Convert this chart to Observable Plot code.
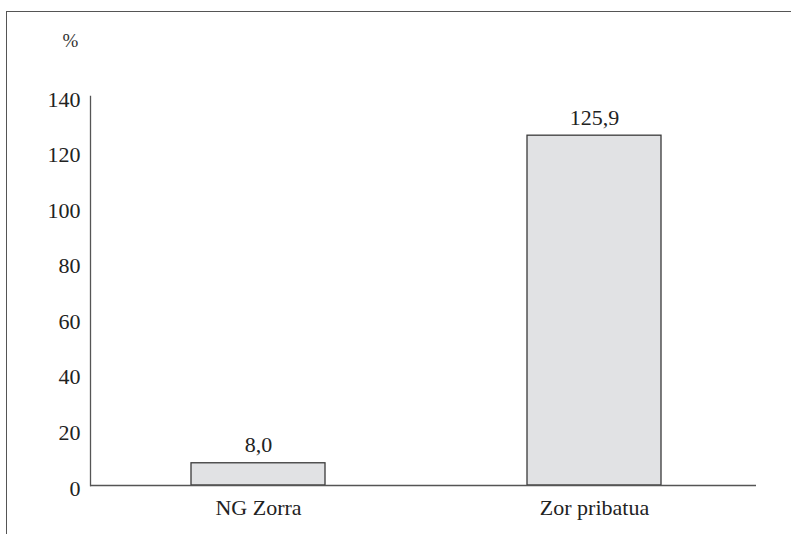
<!DOCTYPE html>
<html>
<head>
<meta charset="utf-8">
<script src="https://cdn.jsdelivr.net/npm/d3@7"></script>
<script src="https://cdn.jsdelivr.net/npm/@observablehq/plot@0.6"></script>
<style>
  html, body { margin: 0; padding: 0; background: #fff; }
  #wrap { position: relative; width: 791px; height: 534px; overflow: hidden; }
  #border { position: absolute; left: 6px; top: 11px; width: 800px; height: 600px;
            border-top: 1.5px solid #555; border-left: 1.5px solid #555; box-sizing: border-box; }
  #chart { position: absolute; left: 0; top: 0; }
</style>
</head>
<body>
<div id="wrap"><div id="border"></div><div id="chart"></div></div>
<script>
const categories = ["NG Zorra", "Zor pribatua"];
const values = [8.0, 125.9];
const yTicks = [0, 20, 40, 60, 80, 100, 120, 140];
const unitLabel = "%";

const data = categories.map((c, i) => ({category: c, value: values[i]}));
const fmt = v => v.toFixed(1).replace(".", ",");
const font = "'Liberation Serif', 'Times New Roman', serif";

const chart = Plot.plot({
  width: 791,
  height: 534,
  marginLeft: 90,
  marginRight: 35,
  marginTop: 96,
  marginBottom: 49,
  style: {fontFamily: font, fontSize: "22px", color: "#222", background: "transparent"},
  x: {domain: categories, range: [93, 759], paddingInner: 0.6, paddingOuter: 0.29, label: null},
  y: {domain: [0, 140], label: null},
  marks: [
    Plot.frame({anchor: "left", stroke: "#555", strokeWidth: 1.3}),
    Plot.barY(data, {x: "category", y: "value", fill: "#e1e2e4", stroke: "#3a3a3a", strokeWidth: 1.3}),
    Plot.ruleY([0], {stroke: "#555", strokeWidth: 1.5}),
    Plot.axisY({ticks: yTicks, tickSize: 0, tickPadding: 10, dy: 3, label: null, fontSize: 22, fill: "#222"}),
    Plot.axisX({tickSize: 0, tickPadding: 14, label: null, fontSize: 22, fill: "#222"}),
    Plot.text(data, {x: "category", y: "value", text: d => fmt(d.value), lineAnchor: "bottom", dy: -11, fontSize: 22, fill: "#222"}),
    Plot.text([unitLabel], {frameAnchor: "top-left", textAnchor: "middle", lineAnchor: "middle", dx: -20, dy: -56, fontSize: 19, fill: "#333", text: d => d})
  ]
});
document.getElementById("chart").appendChild(chart);
</script>
</body>
</html>
